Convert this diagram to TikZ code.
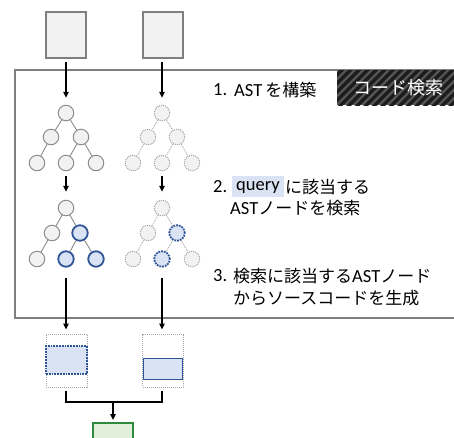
\documentclass[tikz,border=0pt]{standalone}
\usepackage{fontspec}
\setmainfont{Noto Sans CJK JP}
\newfontfamily\lat{Carlito}
\newfontfamily\jp{Noto Sans CJK JP}
\usetikzlibrary{arrows.meta}
\definecolor{boxgray}{HTML}{F2F2F2}
\definecolor{linegray}{HTML}{7F7F7F}
\definecolor{circgray}{HTML}{8C8C8C}
\definecolor{blueline}{HTML}{2F5597}
\definecolor{bluefill}{HTML}{DAE3F3}
\definecolor{greenline}{HTML}{2E8B3E}
\definecolor{greenfill}{HTML}{E2EFDA}
\definecolor{stripedark}{HTML}{1C1C1C}
\definecolor{stripegray}{HTML}{555555}
\tikzset{
  srcbox/.style={draw=linegray, fill=boxgray, line width=1.2pt, minimum width=40pt, minimum height=46pt, inner sep=0pt},
  tn/.style={circle, draw=circgray, fill=boxgray, line width=1pt, minimum size=15.5pt, inner sep=0pt},
  tnd/.style={circle, draw=circgray!80, fill=boxgray, line width=1pt, densely dotted, minimum size=15.5pt, inner sep=0pt},
  tnb/.style={circle, draw=blueline, fill=bluefill, line width=1.8pt, minimum size=15.5pt, inner sep=0pt},
  tnbd/.style={circle, draw=blueline, fill=bluefill, line width=1.8pt, densely dotted, minimum size=15.5pt, inner sep=0pt},
  te/.style={draw=circgray, line width=0.9pt},
  ted/.style={draw=circgray!80, line width=0.9pt, densely dotted},
  arr/.style={-{Triangle[length=6pt,width=5.5pt]}, line width=1.3pt, black},
  outbox/.style={draw=circgray!80, densely dotted, line width=1pt, minimum width=41pt, minimum height=53pt, inner sep=0pt},
  txt/.style={anchor=west, inner sep=0pt, text=black},
}
\begin{document}
\begin{tikzpicture}[x=1pt,y=-1pt]
\useasboundingbox (0,0) rectangle (454,437);
\clip (0,0) rectangle (454,437);
% frame
\draw[draw=linegray, line width=1.2pt] (15,70) rectangle (470,318);
% label box with stripes
\begin{scope}
  \clip (337,70) rectangle (456,105);
  \fill[stripegray] (337,70) rectangle (456,105);
  \foreach \k in {0,...,22} {
    \draw[stripedark, line width=3.4pt] (300+\k*8.5,112) -- (345+\k*8.5,67);
  }
\end{scope}
\node[inner sep=0pt, text=white, font=\jp\fontsize{18}{20}\selectfont] (lab) at (398,88) {コード検索};
% source boxes
\node[srcbox] (s1) at (66,35) {};
\node[srcbox] (s2) at (163,35) {};
% tree 1 left
\node[tn] (a1) at (66,113) {};
\node[tn] (a2) at (51,137) {};
\node[tn] (a3) at (81,137) {};
\node[tn] (a4) at (37,163) {};
\node[tn] (a5) at (66,163) {};
\node[tn] (a6) at (96,163) {};
\draw[te] (a1)--(a2) (a1)--(a3) (a2)--(a4) (a3)--(a5) (a3)--(a6);
% tree 1 right
\node[tnd] (b1) at (162,113) {};
\node[tnd] (b2) at (148,137) {};
\node[tnd] (b3) at (177,137) {};
\node[tnd] (b4) at (133,163) {};
\node[tnd] (b5) at (162,163) {};
\node[tnd] (b6) at (192,163) {};
\draw[ted] (b1)--(b2) (b1)--(b3) (b2)--(b4) (b3)--(b5) (b3)--(b6);
% tree 2 left
\node[tn] (c1) at (66,208) {};
\node[tn] (c2) at (52,233) {};
\node[tnb] (c3) at (80,233) {};
\node[tn] (c4) at (37,259) {};
\node[tnb] (c5) at (66,259) {};
\node[tnb] (c6) at (96,259) {};
\draw[te] (c1)--(c2) (c1)--(c3) (c2)--(c4) (c3)--(c5) (c3)--(c6);
% tree 2 right
\node[tnd] (d1) at (162,208) {};
\node[tnd] (d2) at (148,233) {};
\node[tnbd] (d3) at (177,233) {};
\node[tnd] (d4) at (133,259) {};
\node[tnbd] (d5) at (162,259) {};
\node[tnd] (d6) at (192,259) {};
\draw[ted] (d1)--(d2) (d1)--(d3) (d2)--(d4) (d3)--(d5) (d3)--(d6);
% arrows
\draw[arr, shorten <=3pt, shorten >=7pt] (s1.south) -- (a1.north);
\draw[arr, shorten <=3pt, shorten >=7pt] (s2.south -| b1) -- (b1.north);
\draw[arr, shorten <=5pt, shorten >=8pt] (a5.south) -- (c1.north);
\draw[arr, shorten <=5pt, shorten >=8pt] (b5.south) -- (d1.north);
% output boxes
\node[outbox] (o1) at (66.5,360.5) {};
\node[outbox] (o2) at (163,360.5) {};
\node[draw=blueline, fill=bluefill, densely dotted, line width=1.8pt, minimum width=41pt, minimum height=28pt, inner sep=0pt] (r1) at (66.5,360) {};
\node[draw=blueline, fill=bluefill, line width=1.8pt, minimum width=39pt, minimum height=21pt, inner sep=0pt] (r2) at (163,369) {};
\draw[arr, shorten <=10pt, shorten >=4pt] (c5.south) -- (o1.north -| c5);
\draw[arr, shorten <=10pt, shorten >=4pt] (d5.south) -- (o2.north -| d5);
% green box
\node[draw=greenline, fill=greenfill, line width=1.8pt, minimum width=40pt, minimum height=30pt, inner sep=0pt, anchor=north] (g) at (113,422) {};
% merge connector
\coordinate (m1) at (66,402);
\coordinate (m2) at (162,402);
\coordinate (mm) at (113,402);
\draw[line width=1.3pt] ([yshift=-3pt]o1.south -| m1) -- (m1) -- (m2) -- ([yshift=-3pt]o2.south -| m2);
\draw[arr, shorten >=2pt] (mm) -- (g.north);
% texts
\node[txt, font=\lat\fontsize{18.5}{20}\selectfont] (n1) at (213,90) {1.};
\node[txt] (t1) at (234,90) {{\lat\fontsize{18.5}{20}\selectfont AST}\hspace{3pt}{\jp\fontsize{17}{20}\selectfont を構築}};
\node[txt, font=\lat\fontsize{18.5}{20}\selectfont] (n2) at (213,187) {2.};
\node[fill=bluefill, inner sep=0pt, minimum width=52pt, minimum height=21pt, anchor=west] (q) at (232,186.5) {};
\node[txt, font=\lat\fontsize{18.5}{20}\selectfont] (qt) at (236,187) {query};
\node[txt, font=\jp\fontsize{17}{20}\selectfont] (t2a) at (285,187) {に該当する};
\node[txt] (t2b) at (230,208) {{\lat\fontsize{18.5}{20}\selectfont AST}{\jp\fontsize{17}{20}\selectfont ノードを検索}};
\node[txt, font=\lat\fontsize{18.5}{20}\selectfont] (n3) at (213,276) {3.};
\node[txt] (t3a) at (233,276) {{\jp\fontsize{17}{20}\selectfont 検索に該当する}{\lat\fontsize{18.5}{20}\selectfont AST}{\jp\fontsize{17}{20}\selectfont ノード}};
\node[txt, font=\jp\fontsize{17}{20}\selectfont] (t3b) at (233,298) {からソースコードを生成};
\end{tikzpicture}
\end{document}
